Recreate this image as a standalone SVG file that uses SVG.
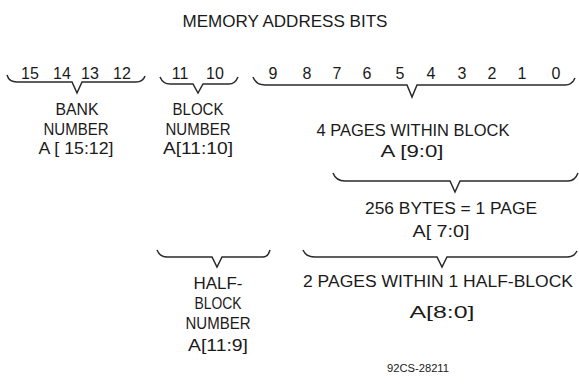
<svg xmlns="http://www.w3.org/2000/svg" width="579" height="385" viewBox="0 0 579 385">
<style>
text{font-family:"Liberation Sans",Arial,sans-serif;fill:#1a1a1a;text-anchor:middle}
.t{font-size:17px}
.b{font-size:16px}
.l{font-size:16px}
.s{font-size:10px}
.br{fill:none;stroke:#2a2a2a;stroke-width:1.5;stroke-linejoin:miter}
</style>
<rect width="579" height="385" fill="#ffffff"/>
<g id="title"><text class="t" x="285" y="27" textLength="205" lengthAdjust="spacingAndGlyphs">MEMORY ADDRESS BITS</text></g>
<g id="bits">
<text class="b" x="30" y="79">15</text>
<text class="b" x="62" y="79">14</text>
<text class="b" x="90" y="79">13</text>
<text class="b" x="122" y="79">12</text>
<text class="b" x="180" y="79">11</text>
<text class="b" x="215" y="79">10</text>
<text class="b" x="273" y="79">9</text>
<text class="b" x="307" y="79">8</text>
<text class="b" x="337" y="79">7</text>
<text class="b" x="367" y="79">6</text>
<text class="b" x="400" y="79">5</text>
<text class="b" x="431" y="79">4</text>
<text class="b" x="462" y="79">3</text>
<text class="b" x="492" y="79">2</text>
<text class="b" x="522" y="79">1</text>
<text class="b" x="556" y="79">0</text>
</g>
<g id="connectors">
<path class="br" d="M7,75 Q9,82 17,82 L72,82 L77,93 L82,82 L136,82 Q143,82 145,76"/>
<path class="br" d="M160,77 Q163,84 170,84 L193,84 L198,93 L203,84 L229,84 Q235,84 238,77"/>
<path class="br" d="M253,77 Q256,85 265,85 L407,85 L412,97 L417,85 L565,85 Q572,85 575,78"/>
<path class="br" d="M333,173 Q336,181 345,181 L450,181 L455,192 L460,181 L568,181 Q575,181 578,173"/>
<path class="br" d="M303,250 Q306,257 315,257 L437,257 L442,267 L447,257 L567,257 Q574,257 577,251"/>
<path class="br" d="M157,250 Q160,257 167,257 L212,257 L217,267 L222,257 L263,257 Q268,257 270,250"/>
</g>
<g id="bank">
<text class="l" x="77" y="115" textLength="43" lengthAdjust="spacingAndGlyphs">BANK</text>
<text class="l" x="76" y="135" textLength="65" lengthAdjust="spacingAndGlyphs">NUMBER</text>
<text class="l" x="76" y="154" textLength="75" lengthAdjust="spacingAndGlyphs">A [ 15:12]</text>
</g>
<g id="block">
<text class="l" x="198" y="115" textLength="51" lengthAdjust="spacingAndGlyphs">BLOCK</text>
<text class="l" x="198" y="135" textLength="65" lengthAdjust="spacingAndGlyphs">NUMBER</text>
<text class="l" x="198" y="154" textLength="70" lengthAdjust="spacingAndGlyphs">A[11:10]</text>
</g>
<g id="pages">
<text class="l" x="413" y="136" textLength="193" lengthAdjust="spacingAndGlyphs">4 PAGES WITHIN BLOCK</text>
<text class="l" x="412" y="157" textLength="63" lengthAdjust="spacingAndGlyphs">A [9:0]</text>
</g>
<g id="bytes">
<text class="l" x="451" y="214" textLength="172" lengthAdjust="spacingAndGlyphs">256 BYTES = 1 PAGE</text>
<text class="l" x="441" y="237" textLength="57" lengthAdjust="spacingAndGlyphs">A[ 7:0]</text>
</g>
<g id="halfpages">
<text class="l" x="438" y="287" textLength="270" lengthAdjust="spacingAndGlyphs">2 PAGES WITHIN 1 HALF-BLOCK</text>
<text class="l" x="442" y="318" textLength="65" lengthAdjust="spacingAndGlyphs">A[8:0]</text>
</g>
<g id="halfblock">
<text class="l" x="218" y="289" textLength="49" lengthAdjust="spacingAndGlyphs">HALF-</text>
<text class="l" x="218" y="309" textLength="47" lengthAdjust="spacingAndGlyphs">BLOCK</text>
<text class="l" x="218" y="329" textLength="65" lengthAdjust="spacingAndGlyphs">NUMBER</text>
<text class="l" x="218" y="351" textLength="60" lengthAdjust="spacingAndGlyphs">A[11:9]</text>
</g>
<g id="figid"><text class="s" x="418" y="372" textLength="62" lengthAdjust="spacingAndGlyphs">92CS-28211</text></g>
</svg>
